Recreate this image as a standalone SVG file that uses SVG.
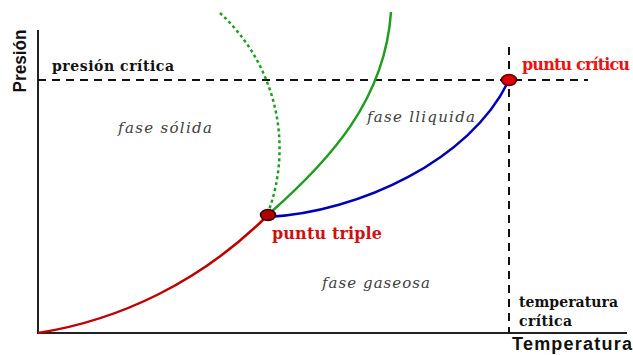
<svg xmlns="http://www.w3.org/2000/svg" width="633" height="355" viewBox="0 0 633 355">
<style>
.axis{stroke:#222;stroke-width:2;fill:none}
.dash{stroke:#111;stroke-width:2;fill:none;stroke-dasharray:8 6}
.curve{fill:none;stroke-width:2.5}
.lbl{font-family:"DejaVu Serif","Liberation Serif",serif;font-weight:bold;font-size:14px;fill:#111}
.red{font-family:"DejaVu Serif","Liberation Serif",serif;font-weight:bold;font-size:16px}
.phase{font-family:"DejaVu Serif","Liberation Serif",serif;font-style:italic;font-size:15px;fill:#404040}
.ax{font-family:"Liberation Sans",Arial,sans-serif;font-weight:bold;font-size:18px;fill:#111}
</style>
<rect width="633" height="355" fill="#fff"/>
<g id="axes">
<path class="axis" d="M38,30 V334"/>
<path class="axis" d="M37,333 H627"/>
<text class="ax" transform="translate(26,61) rotate(-90)" text-anchor="middle" textLength="63" lengthAdjust="spacingAndGlyphs">Presión</text>
<text class="ax" x="512" y="350" textLength="120" lengthAdjust="spacing">Temperatura</text>
</g>
<g id="connectors">
<path class="dash" d="M38,80 H588"/>
<path class="dash" d="M509,47 V333"/>
<path class="curve" stroke="#c00000" d="M38,333 C120,320 200,282 266,217"/>
<path class="curve" stroke="#0000b4" d="M268,217 C360,212 470,160 508,82"/>
<path class="curve" stroke="#1e9e1e" d="M270,213 C330,160 385,100 391,12"/>
<path class="curve" stroke="#1e9e1e" stroke-width="3" stroke-dasharray="3 3" d="M220,13 A184,184 0 0 1 269,210"/>
</g>
<g id="punto-critico">
<ellipse cx="509" cy="80" rx="7.5" ry="5.5" fill="#e00000" stroke="#500" stroke-width="1.5"/>
<text class="red" x="522" y="70" fill="#ee1111" textLength="108" lengthAdjust="spacing">puntu críticu</text>
</g>
<g id="punto-triple">
<ellipse cx="268" cy="215" rx="7.5" ry="5.5" fill="#b00000" stroke="#300" stroke-width="1.5"/>
<text class="red" x="272" y="239" fill="#d01010" textLength="110" lengthAdjust="spacing">puntu triple</text>
</g>
<g id="presion-critica">
<text class="lbl" x="52" y="71" textLength="122" lengthAdjust="spacing">presión crítica</text>
</g>
<g id="temperatura-critica">
<text class="lbl" x="519" y="307" textLength="99" lengthAdjust="spacing">temperatura</text>
<text class="lbl" x="519" y="326" textLength="53" lengthAdjust="spacing">crítica</text>
</g>
<g id="fase-solida">
<text class="phase" x="118" y="133" textLength="94" lengthAdjust="spacing">fase sólida</text>
</g>
<g id="fase-lliquida">
<text class="phase" x="367" y="122" textLength="108" lengthAdjust="spacing">fase lliquida</text>
</g>
<g id="fase-gaseosa">
<text class="phase" x="322" y="288" textLength="108" lengthAdjust="spacing">fase gaseosa</text>
</g>
</svg>
